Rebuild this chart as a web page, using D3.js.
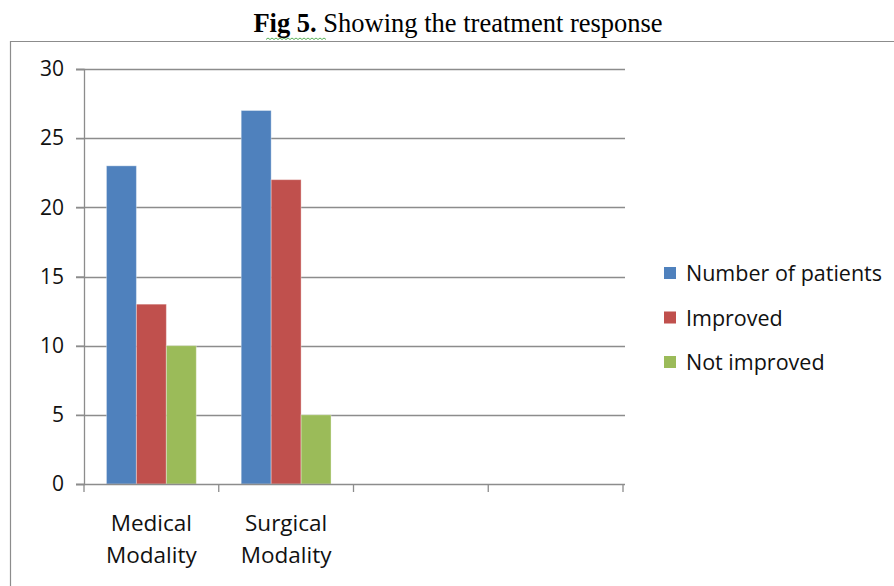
<!DOCTYPE html>
<html>
<head>
<meta charset="utf-8">
<script src="https://cdn.jsdelivr.net/npm/d3@7"></script>
<style>
  body { margin: 0; background: #fff; }
</style>
</head>
<body>
<div id="chart"></div>
<script>
// data
var categories = ["Medical Modality", "Surgical Modality", "", " "]
var seriesNames = ["Number of patients", "Improved", "Not improved"]
var patients = [23, 27]
var improved = [13, 22]
var notImproved = [10, 5]
var yTicks = [0, 5, 10, 15, 20, 25, 30]

var colors = ["#4f81bd", "#c0504d", "#9bbb59"]
var seriesValues = [patients, improved, notImproved]

var width = 894, height = 586
var plot = {left: 84, right: 623, top: 69, bottom: 484}
var sans = "'Open Sans', 'Noto Sans', sans-serif"

var svg = d3.select("#chart").append("svg")
  .attr("width", width).attr("height", height)

// outer frame of the embedded chart
svg.append("path")
  .attr("d", "M10.5," + height + "V41.5H" + width)
  .attr("fill", "none").attr("stroke", "#8c8c8c").attr("stroke-width", 1.2)

// title
var title = svg.append("text")
  .attr("x", 458).attr("y", 32)
  .attr("text-anchor", "middle")
  .attr("font-family", "'Liberation Serif', 'Times New Roman', serif")
  .attr("font-size", 26.5)
  .attr("fill", "#000")
title.append("tspan").attr("font-weight", "bold").text("Fig 5.")
title.append("tspan").text(" Showing the treatment response")

// spell-check squiggle under "Fig 5"
var sq = "M266,39.5"
for (var k = 0; k < 30; k++) sq += (k % 2 ? " l2,1.5" : " l2,-1.5")
svg.append("path")
  .attr("d", sq)
  .attr("fill", "none").attr("stroke", "#2e9d2e").attr("stroke-width", 0.8)

var x0 = d3.scaleBand().domain(categories)
  .range([plot.left, plot.right]).paddingInner(0).paddingOuter(0)

var x1 = d3.scaleBand().domain(seriesNames)
  .range([0, x0.bandwidth()]).paddingInner(0).paddingOuter(0.75)

var y = d3.scaleLinear().domain([0, 30]).range([plot.bottom, plot.top])

// gridlines
svg.append("g").selectAll("line")
  .data(yTicks.filter(function(d){ return d > 0 }))
  .enter().append("line")
  .attr("x1", plot.left - 8).attr("x2", plot.right + 2)
  .attr("y1", function(d){ return Math.round(y(d)) + 0.5 })
  .attr("y2", function(d){ return Math.round(y(d)) + 0.5 })
  .attr("stroke", "#8c8c8c").attr("stroke-width", 1.3)

// bars
var groups = svg.append("g").selectAll("g")
  .data(seriesNames)
  .enter().append("g")
  .attr("fill", function(d, i){ return colors[i] })

groups.selectAll("rect")
  .data(function(d, i){ return seriesValues[i].map(function(v, j){ return {s: d, c: categories[j], v: v} }) })
  .enter().append("rect")
  .attr("x", function(d){ return x0(d.c) + x1(d.s) })
  .attr("width", x1.bandwidth())
  .attr("y", function(d){ return y(d.v) })
  .attr("height", function(d){ return y(0) - y(d.v) })
  .attr("stroke", "rgba(255,255,255,0.35)").attr("stroke-width", 1)

// y axis
var yAxis = svg.append("g")
  .attr("transform", "translate(" + plot.left + ",0)")
  .call(d3.axisLeft(y).tickValues(yTicks).tickSize(8).tickPadding(12))
yAxis.select(".domain").attr("stroke", "#8c8c8c").attr("stroke-width", 1.3)
yAxis.selectAll(".tick line").attr("stroke", "#8c8c8c").attr("stroke-width", 1.3)
yAxis.selectAll(".tick text")
  .attr("font-family", sans)
  .attr("font-size", 21).attr("fill", "#111")

// x axis baseline and ticks at category boundaries
svg.append("line")
  .attr("x1", plot.left - 8).attr("x2", plot.right + 2)
  .attr("y1", plot.bottom + 0.5).attr("y2", plot.bottom + 0.5)
  .attr("stroke", "#8c8c8c").attr("stroke-width", 1.3)

var boundaries = categories.map(function(c){ return x0(c) }).concat([plot.right])
svg.append("g").selectAll("line")
  .data(boundaries)
  .enter().append("line")
  .attr("x1", function(d){ return d }).attr("x2", function(d){ return d })
  .attr("y1", plot.bottom).attr("y2", plot.bottom + 8)
  .attr("stroke", "#8c8c8c").attr("stroke-width", 1.3)

// category labels (two lines)
svg.append("g").selectAll("text")
  .data(categories.filter(function(c){ return c.trim() != "" }))
  .enter().append("text")
  .attr("text-anchor", "middle")
  .attr("font-family", sans)
  .attr("font-size", 22.5).attr("fill", "#111")
  .each(function(d){
    var words = d.split(" ")
    var cx = x0(d) + x0.bandwidth() / 2
    d3.select(this).selectAll("tspan").data(words).enter().append("tspan")
      .attr("x", cx)
      .attr("y", function(w, i){ return 531 + i * 32 })
      .text(function(w){ return w })
  })

// legend
var legend = svg.append("g").selectAll("g")
  .data(seriesNames)
  .enter().append("g")
  .attr("transform", function(d, i){ return "translate(664," + (273 + i * 44.5) + ")" })

legend.append("rect")
  .attr("x", 0).attr("y", -6).attr("width", 12).attr("height", 12)
  .attr("fill", function(d, i){ return colors[i] })

legend.append("text")
  .attr("x", 22).attr("y", 8)
  .attr("font-family", sans)
  .attr("font-size", 21.5).attr("fill", "#111")
  .text(function(d){ return d })
</script>
</body>
</html>
